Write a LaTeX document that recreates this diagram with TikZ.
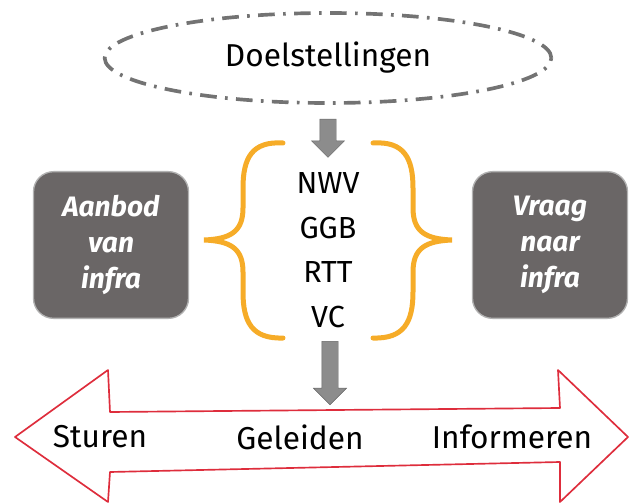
\documentclass[tikz,border=0pt]{standalone}
\usepackage{fontspec}
\setmainfont{Fira Sans}
\usepackage{tikz}
\usetikzlibrary{shapes.geometric}
\usetikzlibrary{shapes.arrows}
\usetikzlibrary{positioning}
\definecolor{bracegold}{RGB}{246,172,40}
\definecolor{slate}{RGB}{106,102,102}
\definecolor{arrowred}{RGB}{222,45,60}
\tikzset{
goal_oval/.style={ellipse, draw=black!55, line width=1.1mm, dash pattern=on 5mm off 2.5mm on 0.8mm off 2.5mm, minimum width=13.4cm, minimum height=2.7cm, font=\fontsize{27}{30}\selectfont},
infra_box/.style={rectangle, rounded corners=0.6cm, draw=black!30, line width=0.4mm, fill=slate, text=white, align=center, minimum width=4.65cm, minimum height=4.4cm, font=\fontsize{24}{31}\selectfont\bfseries\itshape},
code_list/.style={align=center, font=\fontsize{26}{38}\selectfont},
down_arrow/.style={single arrow, draw=black!60, fill=black!45, shape border rotate=270, inner sep=0.24cm, minimum width=0.95cm},
brace_line/.style={draw=bracegold, line width=1.5mm, line cap=round},
axis_arrow/.style={draw=arrowred, fill=white, line width=0.5mm, line join=round},
axis_word/.style={font=\fontsize{27}{30}\selectfont}
}

\begin{document}
\begin{tikzpicture}[x=0.03cm, y=-0.03cm]
    \useasboundingbox (0,0) rectangle (633,504);
    \node[goal_oval] (goal) at (328,58) {Doelstellingen};
    \node[down_arrow, minimum height=1.15cm] (arrow_top) [below=0.42cm of goal] {};
    \node[code_list] (codes) at (328,250) {NWV\\GGB\\RTT\\VC};
    \node[infra_box] (supply) at (111,245) {Aanbod\\van\\infra};
    \node[infra_box] (demand) at (550,245) {Vraag\\naar\\infra};
    % braces round the list
    \draw[brace_line] (283,143) .. controls (252,141) and (243,158) .. (243,188) -- (243,208) .. controls (243,232) and (230,239) .. (204,240) .. controls (230,241) and (243,248) .. (243,272) -- (243,292) .. controls (243,322) and (252,339) .. (283,338);
    \draw[brace_line] (373,143) .. controls (404,141) and (413,158) .. (413,188) -- (413,208) .. controls (413,232) and (426,239) .. (452,240) .. controls (426,241) and (413,248) .. (413,272) -- (413,292) .. controls (413,322) and (404,339) .. (373,338);
    % double arrow
    \draw[axis_arrow] (15,437) -- (108,370) -- (110,412) -- (560,408) -- (558,370) -- (628,437) -- (560,502) -- (560,462) -- (110,472) -- (108,502) -- cycle;
    \coordinate (axis_top) at (330,408);
    \node[down_arrow, minimum height=1.9cm] (arrow_bottom) at (330,369) {};
    \node[axis_word] (steer) at (100,437) {Sturen};
    \node[axis_word] (guide) at (300,437) {Geleiden};
    \node[axis_word] (inform) at (512,437) {Informeren};
\end{tikzpicture}
\end{document}
